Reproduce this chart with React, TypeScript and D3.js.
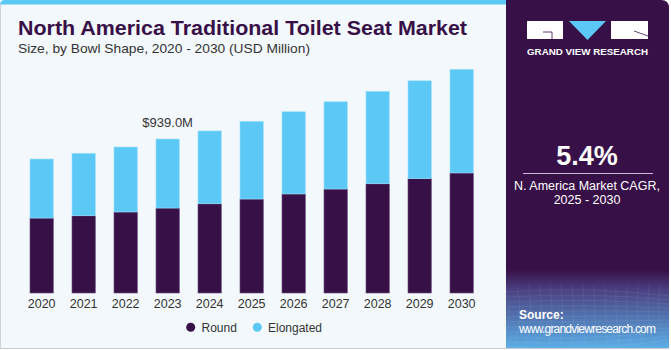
import React from "react";
import * as d3 from "d3";

const years = ["2020","2021","2022","2023","2024","2025","2026","2027","2028","2029","2030"];
const roundValues = [457, 471, 494, 518, 544, 573, 604, 634, 666, 697, 732];
const elongatedValues = [360, 381, 396, 421, 444, 474, 501, 532, 564, 597, 632];
const seriesNames = ["Round", "Elongated"];
const annotationYear = "2023";
const annotationText = "$939.0M";
const cagrValue = "5.4%";

const W = 671, H = 350;
const PURPLE = "#381048";
const BLUE = "#5BC8F5";
const BG = "#F3F8FC";
const FONT = "'Liberation Sans', Arial, sans-serif";

export default function App() {
  const x = d3.scaleBand<string>().domain(years).range([9, 494.3]).paddingInner(0.445).paddingOuter(0.5);
  const y = d3.scaleLinear().domain([0, 1400]).range([293, 63.4]);
  const stackData = years.map((yr, i) => ({ year: yr, Round: roundValues[i], Elongated: elongatedValues[i] }));
  const stack = d3.stack<any>().keys(seriesNames)(stackData);
  const colors: Record<string, string> = { Round: PURPLE, Elongated: BLUE };
  const annIdx = years.indexOf(annotationYear);
  const annTotal = roundValues[annIdx] + elongatedValues[annIdx];

  return (
    <svg width={W} height={H} style={{ position: "absolute", left: 0, top: 0, fontFamily: FONT }}>
      <defs>
        <linearGradient id="srcGrad" x1="0" y1="0" x2="0" y2="1">
          <stop offset="0" stopColor={PURPLE} />
          <stop offset="0.25" stopColor="#4a3f80" />
          <stop offset="1" stopColor="#5aaee6" />
        </linearGradient>
        <clipPath id="panelClip">
          <path d="M506,0 H661 Q669,0 669,8 V348 H506 Z" />
        </clipPath>
      </defs>
      <rect x={0} y={0} width={W} height={H} fill="#ffffff" />
      <path d="M0,5 Q0,0 5,0 H506 V348 H0 Z" fill={BG} />
      <path d="M0,5 Q0,0 5,0 H506 V4.5 H0 Z" fill={BLUE} />
      <line x1={0.5} y1={4} x2={0.5} y2={348} stroke="#d0d4d8" />
      <line x1={0} y1={348.5} x2={669} y2={348.5} stroke="#c8ccd0" />

      <g clipPath="url(#panelClip)">
        <rect x={506} y={0} width={165} height={348} fill={PURPLE} />
        <rect x={506} y={270} width={165} height={78} fill="url(#srcGrad)" />
        {d3.range(0, 12).map((i) => (
          <path key={"h" + i} d={`M506,${292 + i * 5} Q590,${286 + i * 6} 669,${296 + i * 4}`} stroke="#ffffff" strokeOpacity={0.12} fill="none" strokeWidth={0.6} />
        ))}
        {d3.range(0, 16).map((i) => (
          <path key={"v" + i} d={`M${506 + i * 11},285 Q${515 + i * 10},320 ${500 + i * 12},348`} stroke="#ffffff" strokeOpacity={0.1} fill="none" strokeWidth={0.6} />
        ))}
      </g>

      <rect x={527} y={21} width={36} height={18} fill="#ffffff" />
      <path d="M543,32 H552 V39" stroke={PURPLE} strokeWidth={0.8} fill="none" />
      <path d="M569,21 H606 L587.5,40 Z" fill={BLUE} />
      <rect x={611} y={21} width={37} height={18} fill="#ffffff" />
      <path d="M634,31 L648,36" stroke={PURPLE} strokeWidth={0.8} fill="none" />
      <text x={527} y={55} fill="#ffffff" fontSize={8.5} fontWeight="bold" textLength={121} lengthAdjust="spacingAndGlyphs">GRAND VIEW RESEARCH</text>

      <text x={587} y={165} textAnchor="middle" fill="#ffffff" fontSize={27} fontWeight="bold">{cagrValue}</text>
      <line x1={523} y1={173.5} x2={653} y2={173.5} stroke="#c9b8d6" strokeWidth={1} />
      <text x={587} y={190} textAnchor="middle" fill="#ffffff" fontSize={12.5}>N. America Market CAGR,</text>
      <text x={587} y={204} textAnchor="middle" fill="#ffffff" fontSize={12.5}>2025 - 2030</text>

      <text x={519} y={319} fill="#ffffff" fontSize={12} fontWeight="bold">Source:</text>
      <text x={519} y={333} fill="#ffffff" fontSize={12} textLength={137}>www.grandviewresearch.com</text>

      <text x={18} y={35} fill={PURPLE} fontSize={20} fontWeight="bold" textLength={449} lengthAdjust="spacingAndGlyphs">North America Traditional Toilet Seat Market</text>
      <text x={18} y={53} fill="#333333" fontSize={13.5} textLength={292} lengthAdjust="spacingAndGlyphs">Size, by Bowl Shape, 2020 - 2030 (USD Million)</text>

      {stack.map((s) => (
        <g key={s.key}>
          {s.map((d: any) => (
            <rect key={d.data.year} x={x(d.data.year)} y={y(d[1])} width={x.bandwidth()} height={y(d[0]) - y(d[1])}
              fill={colors[s.key]} stroke={s.key === "Round" ? "#6a4a7a" : "#9be0fb"} strokeWidth={0.6} />
          ))}
        </g>
      ))}

      <text x={(x(annotationYear) || 0) + x.bandwidth() / 2} y={y(annTotal) - 12} textAnchor="middle" fill="#333333" fontSize={13}>{annotationText}</text>

      {years.map((yr) => (
        <text key={yr} x={(x(yr) || 0) + x.bandwidth() / 2} y={308} textAnchor="middle" fill="#333333" fontSize={12.5}>{yr}</text>
      ))}

      <circle cx={190.7} cy={327.3} r={4.5} fill={PURPLE} />
      <text x={201.5} y={331.5} fill="#333333" fontSize={12}>{seriesNames[0]}</text>
      <circle cx={257.3} cy={327.3} r={4.5} fill={BLUE} />
      <text x={268} y={331.5} fill="#333333" fontSize={12}>{seriesNames[1]}</text>
    </svg>
  );
}
